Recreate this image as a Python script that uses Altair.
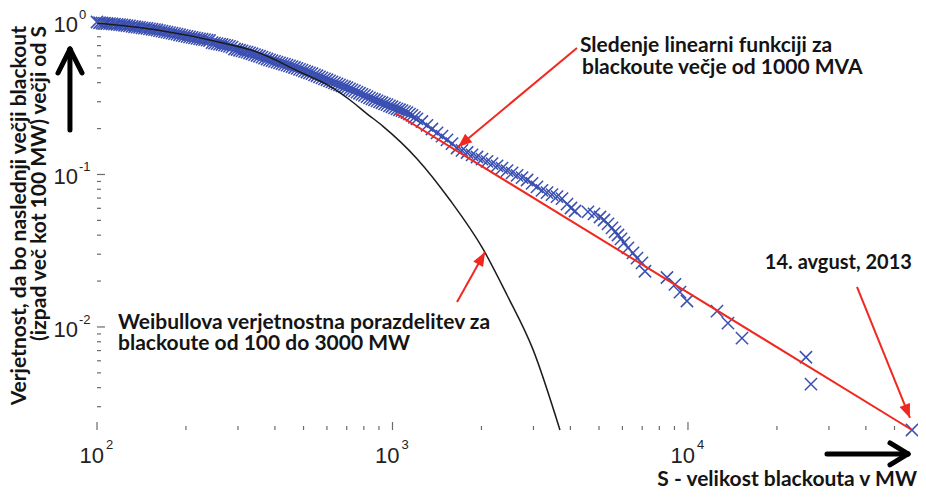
import altair as alt
import pandas as pd

W, H = 815, 408

# ---- blackout size S (MW) and probability P(size >= S) ----
S_MW = [100, 102.0, 104.0, 106.0, 108.1, 110.2, 112.4, 114.6, 116.9, 119.2, 121.5, 123.9, 126.3,
        128.8, 131.4, 134.0, 136.6, 139.3, 142.0, 144.8, 147.6, 150.5, 153.5, 156.5, 159.6,
        162.7, 165.9, 169.2, 172.5, 175.9, 179.4, 182.9, 186.5, 190.2, 194.0, 197.8, 201.7,
        205.7, 209.7, 213.8, 218.0, 222.3, 226.7, 231.2, 235.7, 240.3, 245.1, 249.9, 254.8,
        259.8, 264.9, 270.1, 275.4, 280.8, 286.4, 292.0, 297.8, 303.7, 309.6, 315.7, 321.9,
        328.2, 334.7, 341.3, 348.0, 354.8, 361.8, 368.9, 376.2, 383.6, 391.1, 398.8, 406.7,
        414.7, 422.8, 431.1, 439.6, 448.2, 457.1, 466.1, 475.2, 484.5, 494.1, 503.8, 513.7,
        523.8, 534.1, 544.6, 555.3, 566.2, 577.4, 588.8, 600.4, 612.2, 624.2, 636.5, 649.0,
        661.8, 674.8, 688.1, 701.5, 715.3, 729.4, 743.7, 758.4, 773.3, 788.5, 804.0, 819.9,
        836.0, 852.4, 869.2, 886.3, 903.7, 921.5, 939.6, 958.0, 976.8, 996.1, 1015.7, 1035.6,
        1056.0, 1076.8, 1098.0, 1119.5, 1141.5, 1164.0, 1186.9, 1210.3,
        1258, 1308, 1360, 1415, 1471, 1529, 1590, 1654, 1719, 1788, 1859, 1932, 2009, 2089, 2172,
        2259, 2348, 2442, 2539, 2640, 2745, 2854, 2967, 3083, 3206, 3334, 3466, 3604, 3747,
        3895, 4018, 4147, 4587, 4808, 5038, 5197, 5362, 5532, 5662, 5797, 5934, 6074, 6266, 6515,
        6722, 6989, 7154, 8490, 9036, 9396, 9922, 12536, 13656, 15231, 25076, 26072, 57300]
P_S = [1.0, 0.989, 0.985, 0.981, 0.978, 0.975, 0.972, 0.968, 0.964, 0.960, 0.957, 0.952, 0.947,
       0.942, 0.937, 0.931, 0.926, 0.921, 0.916, 0.911, 0.907, 0.901, 0.896, 0.891, 0.886,
       0.879, 0.872, 0.865, 0.859, 0.852, 0.845, 0.838, 0.832, 0.825, 0.818, 0.811, 0.804,
       0.798, 0.793, 0.787, 0.782, 0.776, 0.771, 0.766, 0.761, 0.756, 0.732, 0.726, 0.7215,
       0.7166, 0.7118, 0.705, 0.699, 0.692, 0.685, 0.665, 0.660, 0.653, 0.646, 0.640, 0.634,
       0.626, 0.619, 0.611, 0.603, 0.596, 0.588, 0.579, 0.572, 0.565, 0.558, 0.552, 0.546,
       0.539, 0.533, 0.528, 0.522, 0.515, 0.510, 0.503, 0.496, 0.489, 0.483, 0.476, 0.470,
       0.464, 0.458, 0.450, 0.444, 0.437, 0.430, 0.424, 0.418, 0.411, 0.405, 0.399, 0.393,
       0.387, 0.381, 0.376, 0.371, 0.364, 0.3585, 0.353, 0.347, 0.341, 0.3355, 0.330, 0.324,
       0.318, 0.3136, 0.309, 0.304, 0.299, 0.2954, 0.2906, 0.2868, 0.282, 0.278, 0.2734, 0.2696,
       0.2658, 0.262, 0.258, 0.2543, 0.2486, 0.2438, 0.237, 0.2314,
       0.2226, 0.2102, 0.1988, 0.1877, 0.1785, 0.1687, 0.1595, 0.1492, 0.1441, 0.1394, 0.1346,
       0.1302, 0.1260, 0.1219, 0.1179, 0.1139, 0.1100, 0.1060, 0.1024, 0.0988, 0.0954, 0.0920,
       0.0874, 0.0829, 0.0787, 0.0761, 0.0738, 0.0716, 0.0695,
       0.0640, 0.0603, 0.0576, 0.0568, 0.0551, 0.0526, 0.0503, 0.0474, 0.0446, 0.0420, 0.0401,
       0.0378, 0.0356, 0.0330, 0.0306, 0.0283, 0.0263, 0.0232, 0.0211, 0.0190, 0.0169, 0.0148,
       0.0127, 0.0106, 0.00844, 0.00633, 0.00422, 0.00211]

# ---- Weibull distribution curve (black) ----
WEIB_X = [100, 160, 267, 348, 486, 629, 718, 820, 929, 1210, 1565, 2024, 2441, 2990, 3688]
WEIB_Y = [0.985, 0.886, 0.728, 0.636, 0.470, 0.369, 0.308, 0.250, 0.207, 0.127, 0.068, 0.0325,
          0.0162, 0.0071, 0.00211]

# ---- linear (power-law) fit, red ----
FIT_X = [1020, 57300]
FIT_Y = [0.253, 0.00211]

# ---- axis ticks ----
X_MAJOR = [100, 1000, 10000]
X_EXP = ["2", "3", "4"]
X_MINOR = [200, 300, 400, 500, 600, 700, 800, 900, 2000, 3000, 4000, 5000, 6000, 7000, 8000,
           9000, 20000, 30000, 40000, 50000]
Y_MAJOR = [1, 0.1, 0.01]
Y_EXP = ["0", "-1", "-2"]
Y_MINOR = [0.9, 0.8, 0.7, 0.6, 0.5, 0.4, 0.3, 0.2, 0.09, 0.08, 0.07, 0.06, 0.05, 0.04, 0.03,
           0.02, 0.009, 0.008, 0.007, 0.006, 0.005, 0.004, 0.003]

# ---- annotations ----
ANN_TEXT = ["Sledenje linearni funkciji za", "blackoute večje od 1000 MVA",
            "Weibullova verjetnostna porazdelitev za", "blackoute od 100 do 3000 MW"]
ANN_X = [4311, 4378, 117.8, 117.8]
ANN_Y = [0.696, 0.499, 0.01062, 0.00774]
DATE_TEXT = ["14. avgust, 2013"]
DATE_X = [18200]
DATE_Y = [0.0263]

# red annotation arrows (tail -> tip) and head angle
RA_X = [4211, 1654, 37320]
RA_Y = [0.6755, 0.01459, 0.0183]
RA_X2 = [1666, 2056, 56400]
RA_Y2 = [0.1515, 0.0310, 0.00253]
RA_ANG = [230, 29, 158]

# black axis-direction arrows (segments)
BA_X = [81.0, 81.0, 81.0, 29540, 55540, 55540]
BA_Y = [0.196, 0.665, 0.665, 0.00147, 0.00147, 0.00147]
BA_X2 = [81.0, 73.8, 88.97, 55540, 48270, 48270]
BA_Y2 = [0.665, 0.463, 0.463, 0.00147, 0.001735, 0.001245]

Y_TITLE = ["Verjetnost, da bo naslednji večji blackout", "(izpad več kot 100 MW) večji od S"]
Y_TITLE_X = [54.8, 64.0]
Y_TITLE_Y = [0.941, 0.941]
X_TITLE = ["S - velikost blackouta v MW"]
X_TITLE_X = [59570]
X_TITLE_Y = [0.000995]

XMIN, YMIN = 100, 0.00211

xs = alt.Scale(type="log", domain=[100, 57300], nice=False)
ys = alt.Scale(type="log", domain=[0.00211, 1], nice=False)

AX_COL = "#6b6b6b"
BLUE = "#3a4fb2"
RED = "#f0281f"
TXT = "#141414"
FONT = "Lato"

scatter_df = pd.DataFrame({"S": S_MW, "P": P_S})
weib_df = pd.DataFrame({"S": WEIB_X, "P": WEIB_Y})
fit_df = pd.DataFrame({"S": FIT_X, "P": FIT_Y})

x_axis = alt.Axis(title=None, labels=False, ticks=False, grid=False, domain=True,
                  domainColor=AX_COL, domainWidth=1.8)
y_axis = alt.Axis(title=None, labels=False, ticks=False, grid=False, domain=True,
                  domainColor=AX_COL, domainWidth=1.8)

scatter = alt.Chart(scatter_df).mark_point(
    shape="M-1,-1L1,1M-1,1L1,-1", filled=False, size=150, strokeWidth=1.5,
    color=BLUE, opacity=1
).encode(
    x=alt.X("S:Q", scale=xs, axis=x_axis),
    y=alt.Y("P:Q", scale=ys, axis=y_axis),
)

weib = alt.Chart(weib_df).mark_line(color="#1c1c1c", strokeWidth=1.5, interpolate="monotone").encode(
    x=alt.X("S:Q", scale=xs, axis=None),
    y=alt.Y("P:Q", scale=ys, axis=None),
)

fit = alt.Chart(fit_df).mark_line(color=RED, strokeWidth=2).encode(
    x=alt.X("S:Q", scale=xs, axis=None),
    y=alt.Y("P:Q", scale=ys, axis=None),
)

# ticks (inward)
xmaj_df = pd.DataFrame({"v": X_MAJOR, "e": X_EXP, "b": ["10"] * 3})
ymaj_df = pd.DataFrame({"v": Y_MAJOR, "e": Y_EXP, "b": ["10"] * 3})
xmin_df = pd.DataFrame({"v": X_MINOR})
ymin_df = pd.DataFrame({"v": Y_MINOR})

xtick_maj = alt.Chart(xmaj_df).mark_rule(color=AX_COL, strokeWidth=1.2).encode(
    x=alt.X("v:Q", scale=xs, axis=None), y=alt.value(H), y2=alt.value(H - 8))
xtick_min = alt.Chart(xmin_df).mark_rule(color=AX_COL, strokeWidth=1.2).encode(
    x=alt.X("v:Q", scale=xs, axis=None), y=alt.value(H), y2=alt.value(H - 4))
ytick_maj = alt.Chart(ymaj_df).mark_rule(color=AX_COL, strokeWidth=1.2).encode(
    y=alt.Y("v:Q", scale=ys, axis=None), x=alt.value(0), x2=alt.value(8))
ytick_min = alt.Chart(ymin_df).mark_rule(color=AX_COL, strokeWidth=1.2).encode(
    y=alt.Y("v:Q", scale=ys, axis=None), x=alt.value(0), x2=alt.value(4))

# tick labels 10^n
LBL_FONT = "Liberation Sans"
xlab_base = alt.Chart(xmaj_df).transform_calculate(y0=str(YMIN)).mark_text(
    font=LBL_FONT, fontSize=22, align="right", baseline="middle", dx=7, dy=26, color="#222222"
).encode(x=alt.X("v:Q", scale=xs, axis=None), y=alt.Y("y0:Q", scale=ys, axis=None), text="b:N")
xlab_exp = alt.Chart(xmaj_df).transform_calculate(y0=str(YMIN)).mark_text(
    font=LBL_FONT, fontSize=13, align="left", baseline="middle", dx=9, dy=15, color="#222222"
).encode(x=alt.X("v:Q", scale=xs, axis=None), y=alt.Y("y0:Q", scale=ys, axis=None), text="e:N")
ylab_base = alt.Chart(ymaj_df).transform_calculate(x0=str(XMIN)).mark_text(
    font=LBL_FONT, fontSize=22, align="right", baseline="middle", dx=-19, dy=3, color="#222222"
).encode(y=alt.Y("v:Q", scale=ys, axis=None), x=alt.X("x0:Q", scale=xs, axis=None), text="b:N")
ylab_exp = alt.Chart(ymaj_df).transform_calculate(x0=str(XMIN)).mark_text(
    font=LBL_FONT, fontSize=13, align="left", baseline="middle", dx=-18, dy=-7, color="#222222"
).encode(y=alt.Y("v:Q", scale=ys, axis=None), x=alt.X("x0:Q", scale=xs, axis=None), text="e:N")

# annotations
ann_df = pd.DataFrame({"t": ANN_TEXT, "x": ANN_X, "y": ANN_Y})
ann = alt.Chart(ann_df).mark_text(
    font=FONT, fontSize=21, fontWeight="bold", align="left", baseline="middle", color=TXT
).encode(x=alt.X("x:Q", scale=xs, axis=None), y=alt.Y("y:Q", scale=ys, axis=None), text="t:N")

date_df = pd.DataFrame({"t": DATE_TEXT, "x": DATE_X, "y": DATE_Y})
date = alt.Chart(date_df).mark_text(
    font=FONT, fontSize=20, fontWeight="bold", align="left", baseline="middle", color=TXT
).encode(x=alt.X("x:Q", scale=xs, axis=None), y=alt.Y("y:Q", scale=ys, axis=None), text="t:N")

ra_df = pd.DataFrame({"x": RA_X, "y": RA_Y, "x2": RA_X2, "y2": RA_Y2, "a": RA_ANG})
ra_line = alt.Chart(ra_df).mark_rule(color=RED, strokeWidth=2).encode(
    x=alt.X("x:Q", scale=xs, axis=None), y=alt.Y("y:Q", scale=ys, axis=None),
    x2="x2:Q", y2="y2:Q")
ra_head = alt.Chart(ra_df).mark_point(
    shape="M0,0L-0.8,2L0.8,2Z", filled=True, size=196, color=RED, opacity=1
).encode(x=alt.X("x2:Q", scale=xs, axis=None), y=alt.Y("y2:Q", scale=ys, axis=None),
         angle=alt.Angle("a:Q", scale=None))

ba_df = pd.DataFrame({"x": BA_X, "y": BA_Y, "x2": BA_X2, "y2": BA_Y2})
ba = alt.Chart(ba_df).mark_rule(color="black", strokeWidth=5, strokeCap="round").encode(
    x=alt.X("x:Q", scale=xs, axis=None), y=alt.Y("y:Q", scale=ys, axis=None),
    x2="x2:Q", y2="y2:Q")

yt_df = pd.DataFrame({"t": Y_TITLE, "x": Y_TITLE_X, "y": Y_TITLE_Y})
ytitle = alt.Chart(yt_df).mark_text(
    font=FONT, fontSize=21, fontWeight="bold", align="right", baseline="middle", angle=270,
    color=TXT
).encode(x=alt.X("x:Q", scale=xs, axis=None), y=alt.Y("y:Q", scale=ys, axis=None), text="t:N")

xt_df = pd.DataFrame({"t": X_TITLE, "x": X_TITLE_X, "y": X_TITLE_Y})
xtitle = alt.Chart(xt_df).mark_text(
    font=FONT, fontSize=21, fontWeight="bold", align="right", baseline="middle", color=TXT
).encode(x=alt.X("x:Q", scale=xs, axis=None), y=alt.Y("y:Q", scale=ys, axis=None), text="t:N")

chart = alt.layer(
    scatter, weib, fit,
    xtick_maj, xtick_min, ytick_maj, ytick_min,
    xlab_base, xlab_exp, ylab_base, ylab_exp,
    ra_line, ra_head, ba, ann, date, ytitle, xtitle,
).properties(
    width=W, height=H,
    autosize=alt.AutoSizeParams(type="none"),
    padding={"left": 89, "top": 14, "right": 6, "bottom": 60},
    background="white",
).configure_view(stroke=None)

chart.save("out.html", embed_options={"renderer": "svg", "actions": False})
